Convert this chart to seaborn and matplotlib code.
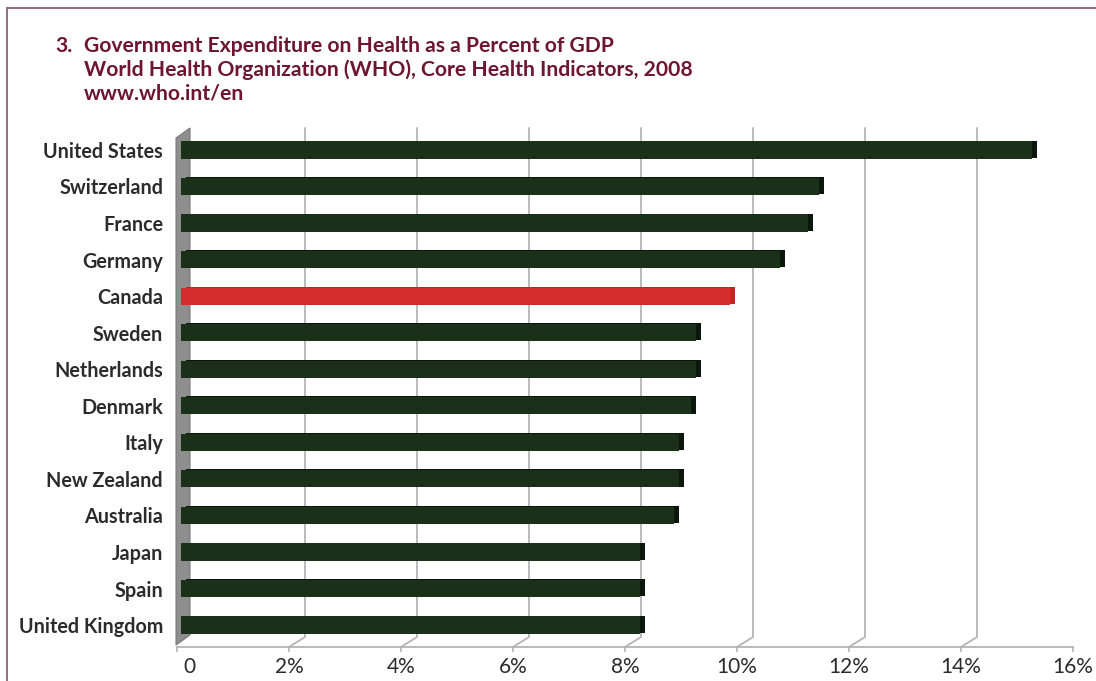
import numpy as np
import pandas as pd
import seaborn as sns
import matplotlib
matplotlib.use("Agg")
import matplotlib.pyplot as plt
from matplotlib.transforms import ScaledTranslation, blended_transform_factory
from matplotlib import patheffects as pe
from matplotlib.lines import Line2D
from matplotlib.patches import Polygon

# ---- data -------------------------------------------------------------
countries = [
    "United States", "Switzerland", "France", "Germany", "Canada",
    "Sweden", "Netherlands", "Denmark", "Italy", "New Zealand",
    "Australia", "Japan", "Spain", "United Kingdom",
]
pct_gdp = [15.2, 11.4, 11.2, 10.7, 9.8, 9.2, 9.2, 9.1, 8.9, 8.9, 8.8, 8.2, 8.2, 8.2]
highlight = "Canada"
x_ticks = [0, 2, 4, 6, 8, 10, 12, 14, 16]
x_tick_labels = ["0", "2%", "4%", "6%", "8%", "10%", "12%", "14%", "16%"]
title_lines = [
    "Government Expenditure on Health as a Percent of GDP",
    "World Health Organization (WHO), Core Health Indicators, 2008",
    "www.who.int/en",
]

# ---- style ------------------------------------------------------------
sns.set_theme(style="white")
plt.rcParams["font.family"] = ["Lato", "DejaVu Sans"]

W, H = 1096, 681
BAR_GREEN = "#1b3019"
CAP_GREEN = "#0c170b"
BAR_RED = "#d52b2b"
CAP_RED = "#c42424"
GRID = "#b4b4b4"
TITLE = "#6e1530"
TEXT = "#2b2b2b"

fig = plt.figure(figsize=(W / 100, H / 100), dpi=100)
fig.patch.set_facecolor("white")

# plot region in pixels: left 177, right 1073, top 128, floor front edge 647
AX_L, AX_R, AX_T, AX_B = 177, 1073, 128, 647
ax = fig.add_axes([AX_L / W, (H - AX_B) / H, (AX_R - AX_L) / W, (AX_B - AX_T) / H])
ax.set_facecolor("none")

df = pd.DataFrame({"country": countries, "pct": pct_gdp})
palette = {c: (BAR_RED if c == highlight else BAR_GREEN) for c in countries}
sns.barplot(
    data=df, x="pct", y="country", hue="country", palette=palette,
    saturation=1, width=0.47, legend=False, ax=ax,
    linewidth=0, zorder=3,
)

ax.set_xlim(x_ticks[0], x_ticks[-1])
ax.set_ylim(len(countries) - 0.4, -0.6)

# bars sit a little into the depth of the box, with a dark side face
bar_shift = ScaledTranslation(4 / 100, 0, fig.dpi_scale_trans)
for patch in ax.patches:
    h = patch.get_height()
    y0 = patch.get_y()
    # map each bar back to its category by its centre position
    idx = int(round(y0 + h / 2))
    c = countries[idx]
    patch.set_transform(ax.transData + bar_shift)
    cap = CAP_RED if c == highlight else CAP_GREEN
    patch.set_path_effects([
        pe.SimplePatchShadow(offset=(3.6, 0.6), shadow_rgbFace=cap, alpha=1.0),
        pe.Normal(),
    ])

# ---- pseudo-3D box: back-wall gridlines, diagonals and left wall ---------
DX_PX, DY_PX = 16, 10
ax_w_px = AX_R - AX_L
ax_h_px = AX_B - AX_T
dx_data = DX_PX * (x_ticks[-1] - x_ticks[0]) / ax_w_px
dy_ax = DY_PX / ax_h_px
blend = blended_transform_factory(ax.transData, ax.transAxes)
for t in x_ticks[1:-1]:
    ax.plot([t, t + dx_data, t + dx_data], [0, dy_ax, 1.0],
            transform=blend, color=GRID, lw=1.3, zorder=0.5,
            clip_on=False, solid_joinstyle="miter")


def px(xp, yp):
    return ((xp - AX_L) / ax_w_px, (AX_B - yp) / ax_h_px)


wall = Polygon([px(176, 645), px(190, 635), px(190, 128), px(176, 138)],
               closed=True, transform=ax.transAxes, facecolor="#8e8e8e",
               edgecolor="#7a7a7a", lw=0.8, zorder=1, clip_on=False)
ax.add_patch(wall)

# ---- axes styling -----------------------------------------------------
for side in ("left", "top", "right"):
    ax.spines[side].set_visible(False)
ax.spines["bottom"].set_color(GRID)
ax.spines["bottom"].set_linewidth(1.3)
ax.set_xticks(x_ticks)
ax.set_xticklabels(x_tick_labels, fontsize=15, color=TEXT)
ax.tick_params(axis="x", length=3.8, width=1.2, color=GRID,
               direction="out", pad=3.2, bottom=True)
ax.tick_params(axis="y", length=0, pad=10, left=False)
for lab in ax.get_yticklabels():
    lab.set_fontsize(14.2)
    lab.set_fontweight("bold")
    lab.set_color(TEXT)
zero_lab = ax.get_xticklabels()[0]
zero_lab.set_transform(zero_lab.get_transform()
                       + ScaledTranslation(12 / 100, 0, fig.dpi_scale_trans))
ax.set_xlabel("")
ax.set_ylabel("")
ax.grid(False)

# ---- heading ------------------------------------------------------------
fig.text(55 / W, 1 - 52 / H, "3.", fontsize=15.2, fontweight="bold",
         color=TITLE, va="baseline", ha="left")
for i, line in enumerate(title_lines):
    fig.text(84 / W, 1 - (52 + 24 * i) / H, line, fontsize=15.2,
             fontweight="bold", color=TITLE, va="baseline", ha="left")

# ---- page frame -------------------------------------------------------
fig.add_artist(Line2D([7 / W, 1], [1 - 8 / H, 1 - 8 / H],
                      transform=fig.transFigure, color="#8e5f76", lw=1.3))
fig.add_artist(Line2D([7 / W, 7 / W], [0, 1 - 8 / H],
                      transform=fig.transFigure, color="#8e5f76", lw=1.3))

fig.savefig("out.png", dpi=100, facecolor="white")
